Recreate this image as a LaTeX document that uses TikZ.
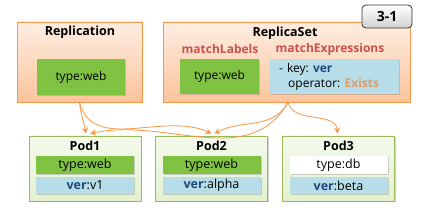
\documentclass[tikz,border=0pt]{standalone}
\usepackage{fontspec}
\setmainfont{Open Sans}[BoldFont={Open Sans Bold}]
\usetikzlibrary{shadows,arrows.meta}
\definecolor{orbord}{HTML}{F79646}
\definecolor{ortop}{HTML}{FEEEE2}
\definecolor{orbot}{HTML}{FBC49C}
\definecolor{grn}{HTML}{80C241}
\definecolor{blu}{HTML}{B6DDE8}
\definecolor{podbord}{HTML}{9BBB59}
\definecolor{podtop}{HTML}{F4FAEC}
\definecolor{podbot}{HTML}{E3F1CF}
\definecolor{redlab}{HTML}{C9514E}
\definecolor{verblue}{HTML}{1F497D}
\definecolor{exor}{HTML}{E59B62}
\begin{document}
\begin{tikzpicture}[x=1pt,y=-1pt,
  font=\fontsize{12}{14}\selectfont,
  shad/.style={drop shadow={opacity=0.35,shadow xshift=1pt,shadow yshift=-1.5pt}},
  outer/.style={draw=orbord,line width=0.8pt,top color=ortop,bottom color=orbot,shad,inner sep=0pt},
  greenbox/.style={fill=grn,shad,inner sep=0pt},
  bluebox/.style={fill=blu,shad,inner sep=0pt},
  podbox/.style={draw=podbord,line width=0.8pt,top color=podtop,bottom color=podbot,shad,minimum width=112pt,minimum height=65pt,inner sep=0pt},
  row/.style={minimum width=98pt,inner sep=0pt,shad,font=\fontsize{12.5}{14}\selectfont},
  title/.style={font=\fontsize{12.5}{14}\selectfont\bfseries},
  redt/.style={font=\fontsize{12}{14}\selectfont\bfseries,text=redlab},
  conn/.style={draw=orbord,line width=0.8pt,-{Stealth[length=6pt,width=6pt]}}
]
\useasboundingbox (0,0) rectangle (432,213);
% Replication
\node[outer,minimum width=125pt,minimum height=80pt] (rep) at (79.5,62) {};
\node[title] (reptitle) at (80,32) {Replication};
\node[greenbox,minimum width=88pt,minimum height=36pt] (repg) at (81,77) {type:web};
% ReplicaSet
\node[outer,minimum width=247pt,minimum height=80pt] (rs) at (286.5,62) {};
\node[title] (rstitle) at (285,33) {ReplicaSet};
\node[redt] (ml) at (220,49) {matchLabels};
\node[redt] (me) at (330,49) {matchExpressions};
\node[greenbox,minimum width=79pt,minimum height=35pt] (rsg) at (219.5,76.5) {type:web};
\node[bluebox,minimum width=129pt,minimum height=35pt] (rsb) at (334.5,76.5) {};
\node[anchor=west,inner sep=0pt] (l1) at (279,69) {-\hspace{4pt}key: \textbf{\textcolor{verblue}{ver}}};
\node[anchor=west,inner sep=0pt] (l2) at (288,84) {operator: \textbf{\textcolor{exor}{Exists}}};
% 3-1 label
\node[draw=black!80,line width=0.8pt,rounded corners=4pt,top color=white,bottom color=black!18,
  minimum width=50pt,minimum height=23pt,inner sep=0pt,font=\fontsize{14}{16}\selectfont\bfseries] (lab) at (387,16.5) {3-1};
% Pods
\foreach \n/\x/\tf/\tt/\vt in {1/85/grn/web/v1,2/211.5/grn/web/alpha,3/338.5/white/db/beta}{
  \node[podbox] (pod\n) at (\x,168.5) {};
  \node[title] (pod\n t) at (\x,146) {Pod\n};
  \node[row,fill=\tf,minimum height=18pt] (pod\n a) at (\x,165) {type:\tt};
  \node[row,fill=blu,minimum height=17pt] (pod\n b) at (\x,185.5) {\textbf{\textcolor{verblue}{ver}}:\vt};
}
% connectors
\draw[conn] (rep.south) to[out=-85,in=100] ([xshift=1pt,yshift=2pt]pod1.north);
\draw[conn] (rep.south) to[out=-75,in=155] ([xshift=0pt,yshift=2pt]pod2.north);
\draw[conn] ([xshift=1.5pt]rs.south) to[out=-120,in=12] ([xshift=5pt,yshift=2pt]pod1.north);
\draw[conn] ([xshift=1.5pt]rs.south) to[out=-118,in=28] ([xshift=3pt,yshift=2pt]pod2.north);
\draw[conn] ([xshift=1.5pt]rs.south) to[out=-75,in=95] ([xshift=-1pt,yshift=2pt]pod3.north);
\end{tikzpicture}
\end{document}
